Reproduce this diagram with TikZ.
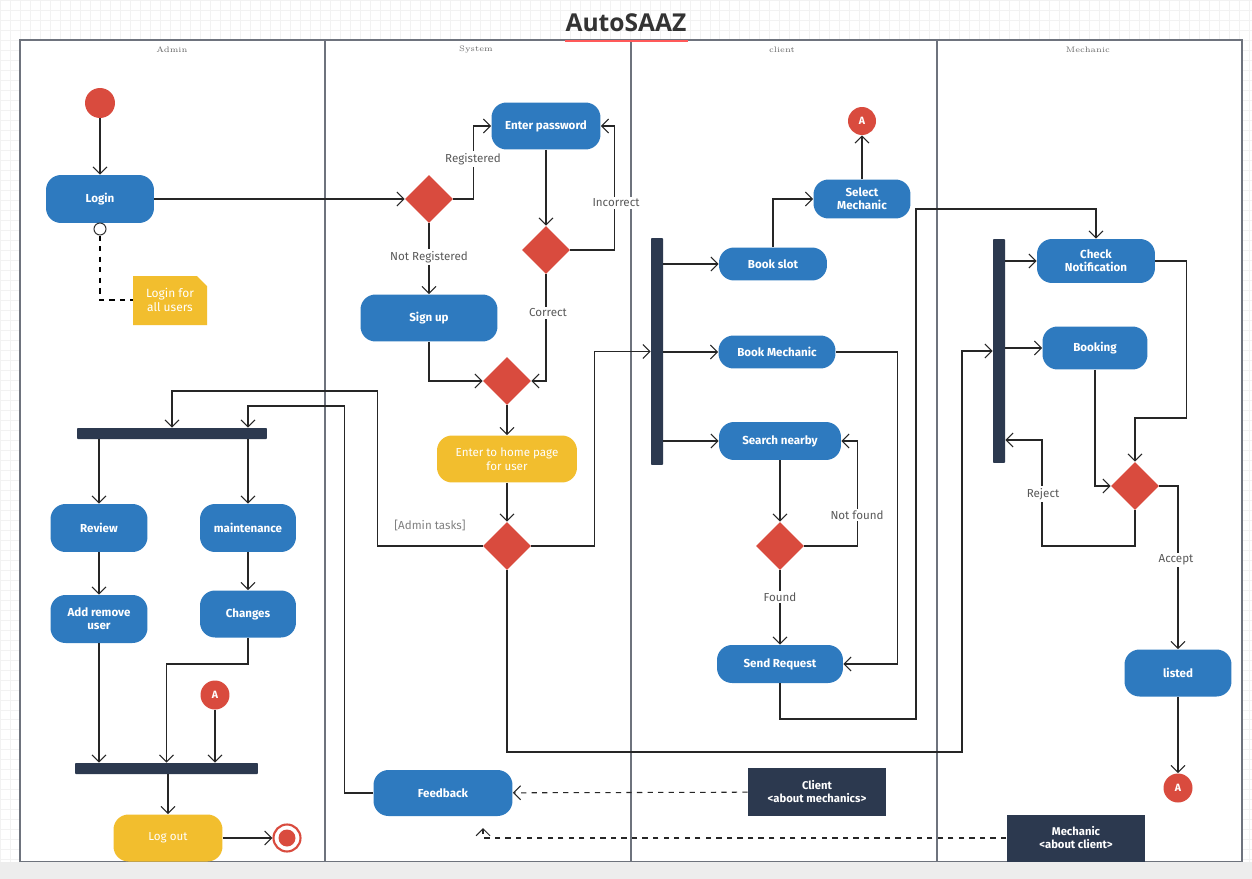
\documentclass[tikz,border=0pt]{standalone}
\usepackage{fontspec}
\setsansfont{Fira Sans}
\newfontfamily\titlefont{Open Sans}
\usetikzlibrary{shapes.geometric,arrows.meta}
\definecolor{actblue}{RGB}{46,122,191}
\definecolor{decred}{RGB}{217,75,62}
\definecolor{noteyel}{RGB}{242,190,46}
\definecolor{barnavy}{RGB}{44,57,79}
\definecolor{lanegray}{RGB}{110,115,125}
\begin{document}
\begin{tikzpicture}[x=0.02cm,y=-0.02cm,>={Straight Barb[length=1.4mm,width=2.8mm]},
	act/.style={fill=actblue,rounded corners=0.3cm,text=white,font=\sffamily\bfseries\fontsize{6.6}{7.6}\selectfont,align=center,inner sep=1pt},
	actY/.style={act,fill=noteyel},
	dec/.style={diamond,fill=decred,minimum width=0.96cm,minimum height=0.96cm,inner sep=0pt},
	bar/.style={fill=barnavy,rounded corners=0.5pt,inner sep=0pt},
	conn/.style={circle,fill=decred,text=white,font=\sffamily\bfseries\fontsize{6}{7}\selectfont,minimum size=0.58cm,inner sep=0pt},
	obj/.style={fill=barnavy,text=white,font=\sffamily\bfseries\fontsize{6.4}{7.4}\selectfont,align=center,inner sep=1pt},
	lbl/.style={fill=white,text=black!65,font=\sffamily\fontsize{6.6}{7.6}\selectfont,inner sep=1pt},
	flow/.style={draw=black!85,line width=0.6pt,->},
	dflow/.style={flow,dashed},
	lane/.style={draw=lanegray,line width=0.8pt},
	lanehd/.style={text=black!60,font=\rmfamily\fontsize{4.5}{5}\selectfont}]
	\useasboundingbox (0,0) rectangle (1252,879);
	\fill[white] (0,0) rectangle (1252,879);
	\draw[black!5,step=0.2cm] (0,0) grid (1252,862);
	\fill[white] (20,40) rectangle (1242,862);
	% lanes
	\draw[lane] (20,40) rectangle (1242,862);
	\foreach \lx in {325,631,937} \draw[lane] (\lx,40)--(\lx,862);
	\node[lanehd] (hadm) at (172,50) {Admin};
	\node[lanehd] (hsys) at (476,50) {System};
	\node[lanehd] (hcli) at (782,50) {client};
	\node[lanehd] (hmec) at (1088,50) {Mechanic};
	\node[font=\titlefont\bfseries\fontsize{14}{16}\selectfont,text=black!80] (title) at (626,23) {AutoSAAZ};
	\draw[red!65,line width=0.7pt] (565,41)--(688,41);
	% admin lane
	\node[circle,fill=decred,minimum size=0.6cm,inner sep=0pt] (start) at (100,103) {};
	\node[act,minimum width=2.16cm,minimum height=0.96cm] (login) at (100,199) {Login};
	\node[circle,draw=black!80,fill=white,line width=0.6pt,minimum size=0.24cm,inner sep=0pt] (lc) at (100,229) {};
	\fill[noteyel] (133,276)--(197,276)--(207,286)--(207,325)--(133,325)--cycle;
	\node[text=white,font=\sffamily\fontsize{6.8}{8}\selectfont,align=center,minimum width=1.48cm,minimum height=0.98cm,inner sep=0pt] (note) at (170,300) {Login for\\all users};
	\node[bar,minimum width=3.8cm,minimum height=0.22cm] (fa) at (172,433.5) {};
	\node[act,minimum width=1.94cm,minimum height=0.96cm] (review) at (99,528) {Review};
	\node[act,minimum width=1.92cm,minimum height=0.96cm] (maint) at (248,528) {maintenance};
	\node[act,minimum width=1.94cm,minimum height=0.96cm] (addrm) at (99,619) {Add remove\\user};
	\node[act,minimum width=1.92cm,minimum height=0.94cm] (changes) at (248,614) {Changes};
	\node[conn] (aadm) at (215,695) {A};
	\node[bar,minimum width=3.66cm,minimum height=0.22cm] (ja) at (166.5,768.5) {};
	\node[actY,font=\sffamily\fontsize{6.6}{7.6}\selectfont,minimum width=2.18cm,minimum height=0.94cm] (logout) at (168,838) {Log out};
	\node[circle,draw=decred,line width=1.2pt,fill=white,minimum size=0.54cm,inner sep=0pt] (endn) at (287,838) {};
	\fill[decred] (endn) circle (0.17cm);
	% system lane
	\node[dec] (d1) at (429,199) {};
	\node[act,minimum width=2.18cm,minimum height=0.94cm] (pwd) at (546,126) {Enter password};
	\node[act,minimum width=2.74cm,minimum height=0.94cm] (signup) at (429,318) {Sign up};
	\node[dec] (d2) at (546,250) {};
	\node[dec] (d3) at (507,381) {};
	\node[actY,font=\sffamily\fontsize{6.6}{7.8}\selectfont,minimum width=2.8cm,minimum height=0.94cm] (home) at (507,459) {Enter to home page\\for user};
	\node[dec] (d4) at (507,546) {};
	\node[act,minimum width=2.78cm,minimum height=0.92cm] (feedback) at (443,793) {Feedback};
	% client lane
	\node[bar,minimum width=0.24cm,minimum height=4.54cm] (cb) at (657,351.5) {};
	\node[act,minimum width=2.16cm,minimum height=0.66cm] (bookslot) at (773,264) {Book slot};
	\node[act,minimum width=1.94cm,minimum height=0.78cm] (selm) at (862,199) {Select\\Mechanic};
	\node[conn,minimum size=0.56cm] (atop) at (862,121) {A};
	\node[act,minimum width=2.34cm,minimum height=0.66cm] (bookm) at (777,352) {Book Mechanic};
	\node[act,minimum width=2.44cm,minimum height=0.76cm] (search) at (780,441) {Search nearby};
	\node[dec] (d5) at (780,546) {};
	\node[act,minimum width=2.52cm,minimum height=0.76cm] (sendr) at (780,664) {Send Request};
	\node[obj,minimum width=2.76cm,minimum height=0.96cm] (cbox) at (817,792) {Client\\<about mechanics>};
	% mechanic lane
	\node[bar,minimum width=0.24cm,minimum height=4.48cm] (mb) at (999,351) {};
	\node[act,minimum width=2.36cm,minimum height=0.88cm] (chk) at (1096,261) {Check\\Notification};
	\node[act,minimum width=2.1cm,minimum height=0.86cm] (booking) at (1095,348) {Booking};
	\node[dec] (d6) at (1135,486) {};
	\node[act,minimum width=2.14cm,minimum height=0.94cm] (listed) at (1178,673) {listed};
	\node[conn] (abot) at (1178,788) {A};
	\node[obj,minimum width=2.78cm,minimum height=0.94cm] (mbox) at (1076,838) {Mechanic\\<about client>};
	\coordinate (fbin) at (483,828);
	% flows
	\draw[flow] (start)--(login);
	\draw[dashed,line width=0.6pt] (lc) |- (note);
	\draw[flow] (login)--(d1);
	\draw[flow] (d1.east)--++(20,0) |- (pwd);
	\draw[flow] (d1)--(signup);
	\draw[flow] (pwd)--(d2);
	\draw[flow] (d2.east)--++(44,0) |- (pwd);
	\draw[flow] (signup) |- (d3);
	\draw[flow] (d2) |- (d3);
	\draw[flow] (d3)--(home);
	\draw[flow] (home)--(d4);
	\draw[flow] (d4.west)--++(-105,0)--++(0,-155) -| (fa);
	\draw[flow] (d4.east)--++(63,0) |- (cb);
	\draw[flow] (d4) |- (962,752) |- (mb);
	\draw[flow] (fa.south -| review)--(review);
	\draw[flow] (fa.south -| maint)--(maint);
	\draw[flow] (review)--(addrm);
	\draw[flow] (maint)--(changes);
	\draw[flow] (addrm.south)--(addrm.south |- ja.north);
	\draw[flow] (changes)--++(0,50) -| (ja);
	\draw[flow] (aadm)--(aadm |- ja.north);
	\draw[flow] (ja.south -| logout)--(logout);
	\draw[flow] (logout)--(endn);
	\draw[flow] (feedback.west)--++(-29,0)--++(0,-387) -| (fa.north -| maint);
	\draw[flow] (cb.east |- bookslot)--(bookslot);
	\draw[flow] (cb.east |- bookm)--(bookm);
	\draw[flow] (cb.east |- search)--(search);
	\draw[flow] (bookslot) |- (selm);
	\draw[flow] (selm)--(atop);
	\draw[flow] (bookm.east)--++(62,0) |- (sendr);
	\draw[flow] (search)--(d5);
	\draw[flow] (d5.east)--++(53,0) |- (search);
	\draw[flow] (d5)--(sendr);
	\draw[flow] (sendr)--++(0,55) -| (916,209) -| (chk);
	\draw[dflow] (cbox)--(feedback);
	\draw[dflow] (mbox) -| (fbin);
	\draw[flow] (mb.east |- chk)--(chk);
	\draw[flow] (mb.east |- booking)--(booking);
	\draw[flow] (chk.east)--++(31,0) |- (1135,418)--(d6);
	\draw[flow] (booking) |- (d6);
	\draw[flow] (d6)--++(0,60) -| (1042,440)--(mb.east |- 1042,440);
	\draw[flow] (d6) -| (listed);
	\draw[flow] (listed)--(abot);
	% labels
	\node[lbl] (lreg) at (473,159) {Registered};
	\node[lbl] (lnreg) at (429,257) {Not Registered};
	\node[lbl] (linc) at (616,203) {Incorrect};
	\node[lbl] (lcor) at (548,313) {Correct};
	\node[lbl,fill=none,text=black!50] (ladm) at (430,525) {[Admin tasks]};
	\node[lbl] (lnf) at (857,515) {Not found};
	\node[lbl] (lfd) at (780,597) {Found};
	\node[lbl] (lrej) at (1043,494) {Reject};
	\node[lbl] (lacc) at (1176,560) {Accept};
	\fill[black!7] (0,862) rectangle (1252,879);
\end{tikzpicture}
\end{document}
